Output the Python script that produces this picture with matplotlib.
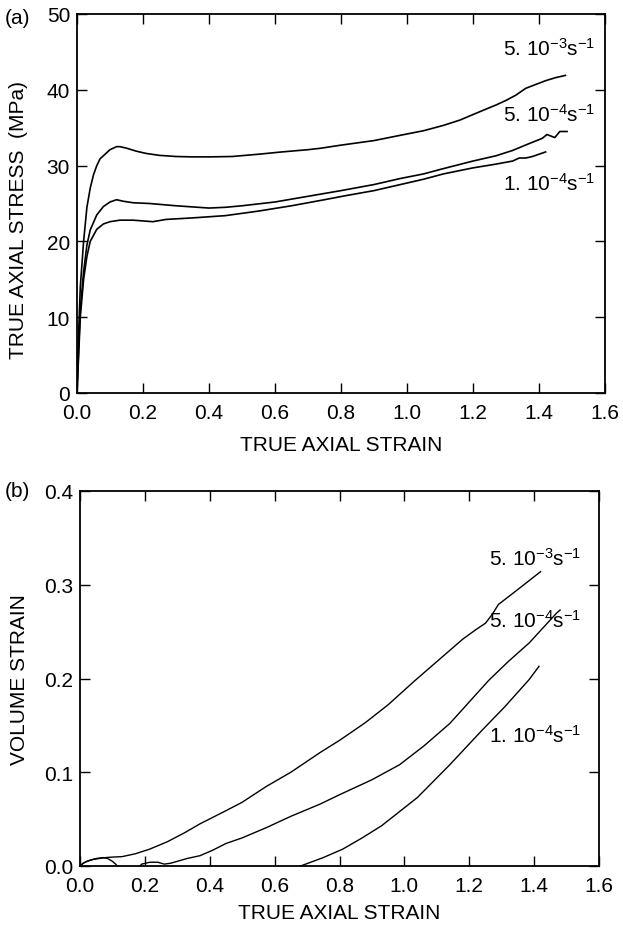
import matplotlib
matplotlib.use("Agg")
import matplotlib.pyplot as plt
import numpy as np

plt.rcParams['font.family'] = ['Liberation Sans', 'DejaVu Sans']
plt.rcParams['mathtext.fontset'] = 'custom'
plt.rcParams['mathtext.rm'] = 'Liberation Sans'
plt.rcParams['mathtext.it'] = 'Liberation Sans:italic'
plt.rcParams['mathtext.default'] = 'regular'

FS = 15

# ---------------- data: panel (a) stress-strain ----------------
strain_a_5e3 = [0.0, 0.005, 0.01, 0.02, 0.03, 0.04, 0.05, 0.06, 0.07, 0.08, 0.09, 0.10, 0.12, 0.13,
                0.15, 0.18, 0.21, 0.25, 0.30, 0.35, 0.40, 0.47, 0.55, 0.62, 0.70, 0.74, 0.80, 0.90,
                0.98, 1.05, 1.11, 1.16, 1.22, 1.27, 1.30, 1.33, 1.36, 1.39, 1.42, 1.45, 1.48]
stress_5e3 = [0.0, 8.0, 14.0, 20.0, 24.5, 27.0, 28.8, 30.0, 30.9, 31.3, 31.7, 32.1, 32.5, 32.5,
              32.3, 31.9, 31.6, 31.35, 31.2, 31.15, 31.15, 31.2, 31.5, 31.8, 32.1, 32.3, 32.7, 33.3,
              34.0, 34.6, 35.3, 36.0, 37.1, 38.0, 38.6, 39.3, 40.2, 40.7, 41.2, 41.6, 41.9]

strain_a_5e4 = [0.0, 0.005, 0.01, 0.02, 0.03, 0.04, 0.06, 0.08, 0.10, 0.12, 0.14, 0.17, 0.22, 0.30,
                0.40, 0.45, 0.50, 0.60, 0.68, 0.80, 0.90, 0.98, 1.05, 1.11, 1.20, 1.27, 1.32, 1.37,
                1.41, 1.424, 1.448, 1.463, 1.485]
stress_5e4 = [0.0, 6.0, 11.0, 16.0, 19.5, 21.5, 23.5, 24.6, 25.2, 25.5, 25.3, 25.1, 25.0, 24.7,
              24.4, 24.5, 24.7, 25.2, 25.8, 26.7, 27.5, 28.3, 28.9, 29.6, 30.6, 31.3, 32.0, 32.9,
              33.6, 34.1, 33.7, 34.5, 34.5]

strain_a_1e4 = [0.0, 0.005, 0.01, 0.02, 0.03, 0.04, 0.06, 0.08, 0.10, 0.13, 0.17, 0.20, 0.23, 0.27,
                0.35, 0.45, 0.55, 0.65, 0.75, 0.81, 0.90, 0.98, 1.05, 1.11, 1.20, 1.27, 1.32, 1.34,
                1.36, 1.38, 1.40, 1.42]
stress_1e4 = [0.0, 5.0, 10.0, 15.0, 18.0, 20.0, 21.6, 22.3, 22.6, 22.8, 22.8, 22.7, 22.6, 22.9,
              23.1, 23.4, 24.0, 24.7, 25.5, 26.0, 26.7, 27.5, 28.2, 28.9, 29.7, 30.2, 30.6, 31.0,
              31.0, 31.2, 31.5, 31.8]

# ---------------- data: panel (b) volume strain ----------------
strain_b_5e3 = [0.0, 0.01, 0.02, 0.04, 0.06, 0.08, 0.10, 0.13, 0.17, 0.215, 0.27, 0.32, 0.37, 0.45,
                0.50, 0.575, 0.65, 0.74, 0.80, 0.88, 0.95, 1.03, 1.10, 1.18, 1.22, 1.25, 1.27, 1.29,
                1.35, 1.42]
vol_5e3 = [0.0, 0.003, 0.005, 0.007, 0.008, 0.009, 0.0095, 0.010, 0.013, 0.018, 0.026, 0.035, 0.045,
           0.059, 0.068, 0.085, 0.100, 0.121, 0.134, 0.153, 0.172, 0.197, 0.218, 0.242, 0.252, 0.259,
           0.268, 0.279, 0.295, 0.314]

strain_b_5e4 = [0.0, 0.01, 0.03, 0.05, 0.07, 0.085, 0.10, 0.11, 0.114, 0.15, 0.185, 0.19, 0.215, 0.24,
                0.26, 0.28, 0.33, 0.37, 0.41, 0.45, 0.50, 0.575, 0.65, 0.74, 0.80, 0.90, 0.985, 1.06,
                1.14, 1.20, 1.26, 1.32, 1.385, 1.43, 1.47, 1.48]
vol_5e4 = [0.0, 0.003, 0.006, 0.008, 0.009, 0.008, 0.005, 0.002, 0.0, -0.004, 0.0, 0.002, 0.004, 0.004,
           0.002, 0.003, 0.008, 0.011, 0.017, 0.024, 0.030, 0.041, 0.053, 0.066, 0.076, 0.092, 0.108,
           0.128, 0.152, 0.175, 0.198, 0.218, 0.238, 0.255, 0.270, 0.273]

strain_b_1e4 = [0.60, 0.68, 0.75, 0.81, 0.87, 0.93, 1.04, 1.14, 1.24, 1.31, 1.385, 1.415]
vol_1e4 = [-0.01, 0.0, 0.009, 0.018, 0.030, 0.043, 0.073, 0.108, 0.145, 0.170, 0.199, 0.213]

rate_labels = [r"5. 10$^{-3}$s$^{-1}$", r"5. 10$^{-4}$s$^{-1}$", r"1. 10$^{-4}$s$^{-1}$"]
xticks = [0.0, 0.2, 0.4, 0.6, 0.8, 1.0, 1.2, 1.4, 1.6]
yticks_a = [0, 10, 20, 30, 40, 50]
yticks_b = [0.0, 0.1, 0.2, 0.3, 0.4]

W, H = 623, 928
fig = plt.figure(figsize=(W / 100, H / 100), dpi=100)

def px_axes(l, t, r, b):
    return fig.add_axes([l / W, 1 - b / H, (r - l) / W, (b - t) / H])

ax1 = px_axes(77, 15, 605, 394)
ax2 = px_axes(80, 492, 599, 867)

for ax in (ax1, ax2):
    for s in ax.spines.values():
        s.set_linewidth(1.3)
    ax.tick_params(direction='in', top=True, right=True, length=7, width=1.0,
                   labelsize=FS)
    ax.tick_params(axis='x', pad=7)
    ax.tick_params(axis='y', pad=5)
    ax.set_xlim(0, 1.6)
    ax.set_xticks(xticks)
    ax.set_xticklabels([f"{v:.1f}" for v in xticks])

lw = 1.2
ax1.plot(strain_a_5e3, stress_5e3, color='black', lw=lw)
ax1.plot(strain_a_5e4, stress_5e4, color='black', lw=lw)
ax1.plot(strain_a_1e4, stress_1e4, color='black', lw=lw)
ax1.set_ylim(0, 50)
ax1.set_yticks(yticks_a)
ax1.set_xlabel("TRUE AXIAL STRAIN", fontsize=FS)
ax1.set_ylabel("TRUE AXIAL STRESS  (MPa)", fontsize=FS)
ax1.xaxis.set_label_coords(0.5, -0.111)
ax1.yaxis.set_label_coords(-0.093, 0.46)

ax1.text(1.57, 45.6, rate_labels[0], ha='right', va='center', fontsize=FS)
ax1.text(1.57, 36.8, rate_labels[1], ha='right', va='center', fontsize=FS)
ax1.text(1.57, 27.7, rate_labels[2], ha='right', va='center', fontsize=FS)

lw2 = 1.0
ax2.plot(strain_b_5e3, vol_5e3, color='black', lw=lw2)
ax2.plot(strain_b_5e4, vol_5e4, color='black', lw=lw2)
ax2.plot(strain_b_1e4, vol_1e4, color='black', lw=lw2)
ax2.set_ylim(0, 0.4)
ax2.set_yticks(yticks_b)
ax2.set_yticklabels([f"{v:.1f}" for v in yticks_b])
ax2.set_xlabel("TRUE AXIAL STRAIN", fontsize=FS)
ax2.set_ylabel("VOLUME STRAIN", fontsize=FS)
ax2.xaxis.set_label_coords(0.5, -0.099)
ax2.yaxis.set_label_coords(-0.098, 0.5)

ax2.text(1.547, 0.329, rate_labels[0], ha='right', va='center', fontsize=FS)
ax2.text(1.547, 0.263, rate_labels[1], ha='right', va='center', fontsize=FS)
ax2.text(1.547, 0.140, rate_labels[2], ha='right', va='center', fontsize=FS)

fig.text(5 / W, 1 - 18 / H, "(a)", ha='left', va='center', fontsize=FS)
fig.text(5 / W, 1 - 492 / H, "(b)", ha='left', va='center', fontsize=FS)

fig.savefig("out.png", dpi=100)
